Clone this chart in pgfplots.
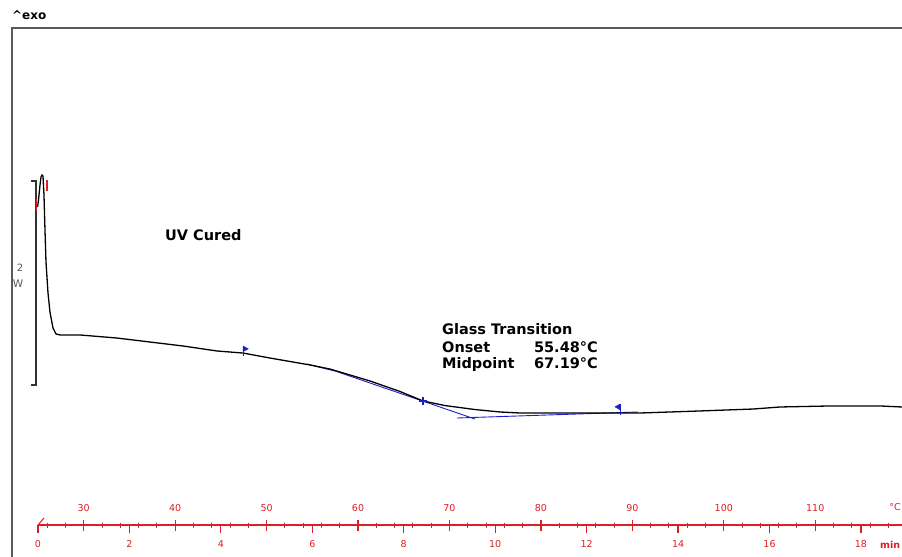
\documentclass[border=0pt]{standalone}
\usepackage{fontspec}
\setmainfont{DejaVu Sans}
\usepackage{pgfplots}
\pgfplotsset{compat=1.18}
\definecolor{myred}{RGB}{220,30,40}
\definecolor{myblue}{RGB}{30,30,200}
\definecolor{framegray}{RGB}{90,90,90}
\pgfplotstableread{
t y
-0.011 3.118
0.011 3.186
0.044 3.333
0.066 3.412
0.087 3.431
0.109 3.422
0.131 3.235
0.153 2.892
0.175 2.578
0.219 2.275
0.262 2.088
0.328 1.931
0.394 1.873
0.481 1.863
0.919 1.863
1.728 1.833
2.450 1.794
3.172 1.755
3.915 1.706
4.484 1.686
5.074 1.637
5.949 1.569
6.387 1.529
7.262 1.412
7.918 1.309
8.421 1.216
8.902 1.171
9.558 1.132
10.105 1.108
10.542 1.098
13.167 1.098
14.479 1.118
15.026 1.127
15.639 1.137
16.229 1.157
17.323 1.167
18.416 1.167
18.898 1.157
}\dsccurve
\begin{document}
\begin{tikzpicture}
\begin{axis}[
  at={(0,0)}, anchor=south west,
  scale only axis, width=864pt, height=525pt,
  xmin=0, xmax=18.898, ymin=0, ymax=5.1471,
  axis x line=bottom, axis y line=none,
  x axis line style={-, myred, line width=1.2pt},
  xtick={0,2,...,18},
  xtick align=outside,
  major tick length=8pt,
  x tick style={myred, line width=1.2pt},
  xticklabel style={font=\fontsize{9.5}{10}\selectfont, text=myred, yshift=-4pt},
  /pgf/number format/assume math mode=true,
  clip=false,
]
% frame
\addplot[framegray, line width=2pt] coordinates {(-0.569,-0.4) (-0.569,4.873) (19.5,4.873)};
% scale bar
\addplot[black!80, line width=1.2pt] coordinates {(-0.153,3.373) (-0.0437,3.373) (-0.0437,1.373) (-0.153,1.373)};
% slash at start of red axis
\addplot[myred, line width=1pt] coordinates {(0,0) (0.131,0.069)};
% red integration marks
\addplot[myred, line width=1.5pt] coordinates {(-0.033,3.196) (-0.033,3.078)};
\addplot[myred, line width=1.5pt] coordinates {(0.197,3.382) (0.197,3.274)};
% blue evaluation lines
\addplot[myblue, line width=1pt] coordinates {(5.884,1.578) (6.496,1.510)};
\addplot[myblue, line width=0.9pt] coordinates {(6.496,1.510) (9.558,1.039)};
\addplot[myblue, line width=0.9pt] coordinates {(9.165,1.049) (13.123,1.108)};
% DSC curve
\addplot[black, line width=1.3pt] table[x=t, y=y] {\dsccurve};
% blue markers
\addplot[myblue, line width=1pt] coordinates {(4.484,1.657) (4.484,1.755)};
\addplot[myblue, fill=myblue] coordinates {(4.484,1.755) (4.60,1.727) (4.484,1.700)} -- cycle;
\addplot[myblue, line width=1pt] coordinates {(12.73,1.078) (12.73,1.186)};
\addplot[myblue, fill=myblue] coordinates {(12.73,1.186) (12.62,1.158) (12.73,1.130)} -- cycle;
\addplot[myblue, only marks, mark=+, mark size=4pt, mark options={line width=1.2pt}] coordinates {(8.421,1.216)};
% texts
\node[anchor=base west, inner sep=0pt, font=\bfseries\fontsize{12}{12}\selectfont] at (axis cs:-0.569,4.951) {\textasciicircum exo};
\node[anchor=base west, inner sep=0pt, font=\bfseries\fontsize{14.5}{15}\selectfont] at (axis cs:2.778,2.794) {UV Cured};
\node[anchor=base west, inner sep=0pt, font=\bfseries\fontsize{14.5}{15}\selectfont] at (axis cs:8.836,1.863) {Glass Transition};
\node[anchor=base west, inner sep=0pt, font=\bfseries\fontsize{14.5}{15}\selectfont] at (axis cs:8.836,1.696) {Onset};
\node[anchor=base west, inner sep=0pt, font=\bfseries\fontsize{14.5}{15}\selectfont] at (axis cs:8.836,1.539) {Midpoint};
\node[anchor=base east, inner sep=0pt, font=\bfseries\fontsize{14.5}{15}\selectfont] at (axis cs:12.249,1.696) {55.48°C};
\node[anchor=base east, inner sep=0pt, font=\bfseries\fontsize{14.5}{15}\selectfont] at (axis cs:12.249,1.539) {67.19°C};
\node[inner sep=0pt, text=black!65, font=\fontsize{10}{10}\selectfont] at (axis cs:-0.394,2.520) {2};
\node[inner sep=0pt, text=black!65, font=\fontsize{10.5}{10}\selectfont] at (axis cs:-0.437,2.363) {W};
\node[anchor=base west, inner sep=0pt, text=myred, font=\bfseries\fontsize{9.5}{10}\selectfont] at (axis cs:18.416,-0.235) {min};
\coordinate (bbBL) at (axis cs:-0.831,-0.3039);
\coordinate (bbTR) at (axis cs:18.898,5.1471);
\end{axis}
\begin{axis}[
  at={(0,0)}, anchor=north west,
  scale only axis, width=864pt, height=31pt,
  xmin=25, xmax=119.49, ymin=0, ymax=1,
  axis x line=top, axis y line=none,
  x axis line style={-, myred, line width=1.2pt},
  xtick={30,40,...,110},
  minor xtick={26,28,...,118},
  xtick align=center,
  major tick length=11pt, minor tick length=5pt,
  x tick style={myred, line width=1.2pt},
  minor x tick style={myred, line width=1pt},
  xticklabel style={font=\fontsize{9.5}{10}\selectfont, text=myred, yshift=4pt},
  /pgf/number format/assume math mode=true,
  clip=false,
]
\addplot[draw=none] coordinates {(25,0.5)};
\node[anchor=east, inner sep=0pt, text=myred, font=\fontsize{9.5}{10}\selectfont] at (axis cs:119.38,1.58) {°C};
\end{axis}
\pgfresetboundingbox
\path[use as bounding box] (bbBL) rectangle (bbTR);
\end{tikzpicture}
\end{document}
